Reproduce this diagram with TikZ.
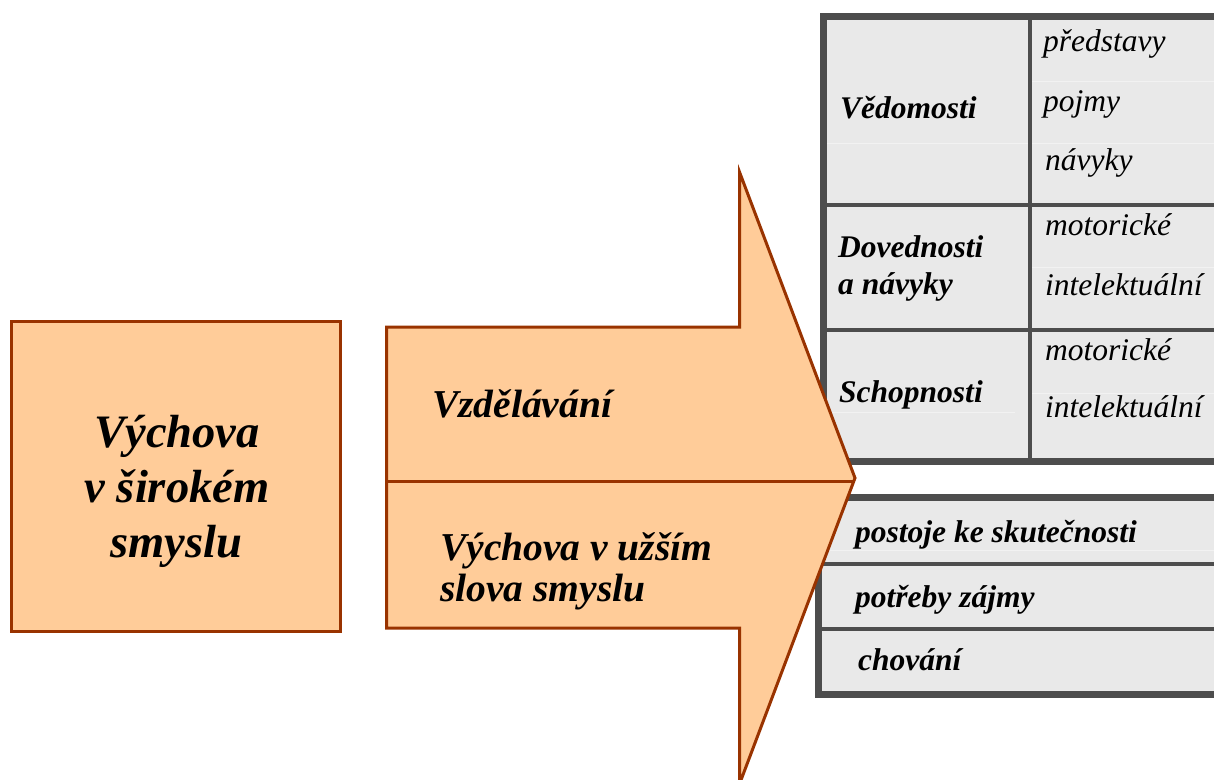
\documentclass[tikz,border=0pt]{standalone}
\usepackage{fontspec}
\setmainfont{Liberation Serif}
\definecolor{orfill}{HTML}{FFCC99}
\definecolor{orline}{HTML}{993300}
\definecolor{tabfill}{HTML}{E9E9E9}
\definecolor{tabline}{HTML}{4D4D4D}
\definecolor{faint}{HTML}{F2F2F2}
\begin{document}
\begin{tikzpicture}[x=1pt,y=-1pt,
  orshape/.style={fill=orfill,draw=orline,line width=3pt,line join=miter},
  tabouter/.style={draw=tabline,line width=7pt},
  tabinner/.style={draw=tabline,line width=3.8pt},
  faintline/.style={draw=faint,line width=1pt},
  txt/.style={inner sep=0pt,anchor=base west},
  bigtxt/.style={inner sep=0pt,anchor=base,font=\fontsize{46.5}{55}\selectfont\bfseries\itshape},
  midtxt/.style={txt,font=\fontsize{39.5}{40}\selectfont\bfseries\itshape},
  tabb/.style={txt,font=\fontsize{31.5}{36}\selectfont\bfseries\itshape},
  tabi/.style={txt,font=\fontsize{31.5}{36}\selectfont\itshape}]
\useasboundingbox (0,0) rectangle (1214,779);
\clip (0,0) rectangle (1214,779);
% top table
\fill[tabfill] (823.5,16.5) rectangle (1230,461.5);
\draw[faintline] (1031,81) -- (1230,81);
\draw[faintline] (1031,143) -- (1230,143);
\draw[faintline] (827,143) -- (1028,143);
\draw[faintline] (1031,267) -- (1230,267);
\draw[faintline] (1031,393) -- (1230,393);
\draw[faintline] (827,412) -- (1015,412);
\draw[tabinner] (1029.8,16.5) -- (1029.8,461.5);
\draw[tabinner] (823.5,204.7) -- (1230,204.7);
\draw[tabinner] (823.5,330) -- (1230,330);
\draw[tabouter] (1230,16.5) -- (823.5,16.5) -- (823.5,461.5) -- (1230,461.5);
% bottom table
\fill[tabfill] (818,497.5) rectangle (1230,694.5);
\draw[faintline] (822,550) -- (1230,550);
\draw[tabinner] (818,564) -- (1230,564);
\draw[tabinner] (818,629) -- (1230,629);
\draw[tabouter] (1230,497.5) -- (818,497.5) -- (818,694.5) -- (1230,694.5);
% table texts
\node[tabb] (ved) at (840,118) {Vědomosti};
\node[tabi] (pred) at (1043,51) {představy};
\node[tabi] (poj) at (1043,111) {pojmy};
\node[tabi] (navy) at (1045,170) {návyky};
\node[tabb] (dov) at (838,257) {Dovednosti};
\node[tabb] (dovb) at (838,294) {a návyky};
\node[tabi] (mot1) at (1045,235) {motorické};
\node[tabi] (int1) at (1045,295) {intelektuální};
\node[tabb] (sch) at (839,402) {Schopnosti};
\node[tabi] (mot2) at (1045,360) {motorické};
\node[tabi] (int2) at (1045,417) {intelektuální};
\node[tabb] (post) at (855,542) {postoje ke skutečnosti};
\node[tabb] (potr) at (855,607) {potřeby zájmy};
\node[tabb] (chov) at (858,670) {chování};
% arrow
\draw[orshape] (386.5,327) -- (739.5,327) -- (739.5,172) -- (855,478) -- (739.5,784) -- (739.5,628) -- (386.5,628) -- cycle;
\draw[draw=orline,line width=3pt] (386.5,481.5) -- (853.5,481.5);
\node[midtxt] (vzd) at (432,417) {Vzdělávání};
\node[midtxt] (vyu1) at (440,560) {Výchova v užším};
\node[midtxt] (vyu2) at (440,601) {slova smyslu};
% box
\draw[orshape] (11.5,321.5) rectangle (340,631.5);
\node[bigtxt] (v1) at (177,447) {Výchova};
\node[bigtxt] (v2) at (177,502) {v širokém};
\node[bigtxt] (v3) at (176,557) {smyslu};
\end{tikzpicture}
\end{document}
